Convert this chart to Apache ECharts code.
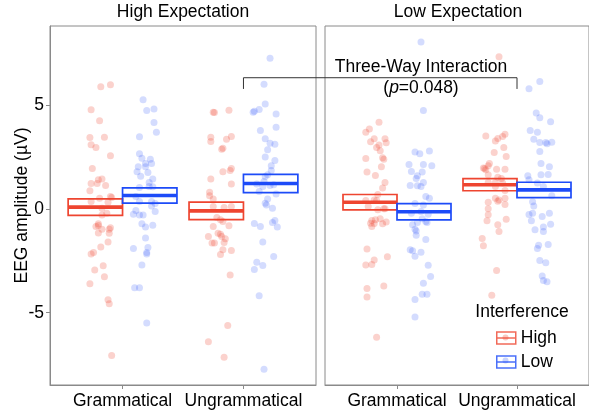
<!DOCTYPE html>
<html><head><meta charset="utf-8">
<script src="https://cdn.jsdelivr.net/npm/echarts@6/dist/echarts.min.js"></script>
<style>html,body{margin:0;padding:0;background:#fff}#c{width:589px;height:416px}</style>
</head><body><div id="c"></div>
<script>
// ---------- data ----------
const categories = ['Grammatical', 'Ungrammatical'];
const panels = ['High Expectation', 'Low Expectation'];
const interference = ['High', 'Low'];
const yTicks = [-5, 0, 5];

// High Expectation panel
const hiExpGramHighY = [5.87,5.97,4.77,4.24,3.43,3.45,3.08,2.95,2.55,1.94,1.40,1.43,1.22,1.22,1.12,0.87,0.59,0.51,0.54,0.35,0.32,0.03,-0.21,-0.30,-0.72,-0.80,-0.85,-0.91,-0.98,-0.98,-1.16,-1.17,-1.60,-1.84,-2.10,-2.18,-2.74,-2.94,-3.27,-3.61,-4.38,-4.57,-7.06];
const hiExpGramHighDx = [-0.18,-0.10,-0.26,-0.19,-0.27,-0.15,-0.26,-0.22,-0.10,-0.25,-0.20,-0.17,-0.26,-0.21,-0.14,-0.27,-0.10,-0.19,-0.09,-0.26,-0.12,-0.17,-0.13,-0.17,-0.20,-0.20,-0.22,-0.10,-0.17,-0.11,-0.20,-0.11,-0.12,-0.18,-0.24,-0.26,-0.16,-0.23,-0.15,-0.27,-0.12,-0.11,-0.09];
const hiExpGramLowY = [5.25,4.73,4.81,4.16,3.69,3.47,2.65,2.44,2.39,2.18,2.18,2.02,2.02,1.78,1.75,1.57,1.44,1.27,1.03,1.07,1.06,0.59,0.35,0.35,0.26,0.13,-0.08,-0.13,-0.26,-0.30,-0.30,-0.72,-0.88,-0.79,-1.41,-1.86,-1.91,-2.10,-2.18,-2.70,-3.80,-3.80,-5.50];
const hiExpGramLowDx = [0.17,0.20,0.26,0.26,0.28,0.14,0.14,0.16,0.23,0.19,0.24,0.13,0.19,0.12,0.21,0.15,0.25,0.22,0.14,0.22,0.25,0.11,0.14,0.24,0.27,0.24,0.11,0.27,0.09,0.14,0.17,0.16,0.19,0.25,0.19,0.21,0.09,0.20,0.20,0.16,0.10,0.14,0.20];
const hiExpUngrHighY = [4.65,4.64,4.75,3.45,3.24,3.35,3.48,2.87,2.92,1.94,1.85,1.78,1.43,1.19,0.80,0.63,0.47,0.11,0.06,0.11,-0.42,-0.53,-0.61,-0.82,-0.85,-1.17,-1.22,-1.33,-1.33,-1.44,-1.65,-1.65,-1.62,-1.97,-2.01,-2.20,-3.18,-5.62,-6.40,-7.14];
const hiExpUngrHighDx = [-0.25,-0.24,-0.12,-0.27,-0.27,-0.14,-0.10,-0.18,-0.17,-0.10,-0.11,-0.17,-0.27,-0.10,-0.28,-0.28,-0.25,-0.25,-0.16,-0.10,-0.22,-0.19,-0.17,-0.12,-0.25,-0.21,-0.19,-0.29,-0.18,-0.15,-0.26,-0.24,-0.16,-0.17,-0.10,-0.19,-0.11,-0.13,-0.29,-0.16];
const hiExpUngrLowY = [7.25,6.00,5.04,4.78,4.70,4.65,4.57,3.77,3.93,3.37,3.16,3.11,2.84,2.49,2.33,2.07,1.85,1.64,1.56,1.32,1.20,1.12,1.07,1.16,0.83,0.71,0.47,0.27,0.18,0.03,-0.71,-0.85,-0.66,-0.56,-0.87,-1.60,-2.30,-2.57,-2.92,-2.73,-4.19,-7.72];
const hiExpUngrLowDx = [0.22,0.17,0.18,0.13,0.09,0.08,0.27,0.14,0.27,0.18,0.22,0.26,0.20,0.18,0.26,0.23,0.23,0.20,0.18,0.17,0.11,0.22,0.16,0.25,0.13,0.27,0.20,0.18,0.19,0.24,0.09,0.14,0.24,0.26,0.28,0.16,0.25,0.11,0.09,0.16,0.13,0.17];

// Low Expectation panel
const loExpGramHighY = [4.17,3.84,3.68,3.37,3.37,3.23,3.18,3.07,2.95,2.79,2.42,2.46,2.39,2.02,1.77,1.60,1.27,1.00,0.69,0.40,0.42,0.40,0.11,0.00,-0.05,0.00,-0.56,-0.53,-0.48,-0.63,-0.69,-0.71,-0.85,-0.72,-1.93,-2.31,-2.46,-2.70,-2.68,-3.84,-3.72,-4.24,-6.18];
const loExpGramHighDx = [-0.15,-0.23,-0.26,-0.19,-0.10,-0.22,-0.09,-0.15,-0.17,-0.14,-0.26,-0.12,-0.11,-0.13,-0.25,-0.18,-0.10,-0.12,-0.16,-0.26,-0.19,-0.17,-0.24,-0.10,-0.16,-0.11,-0.21,-0.18,-0.14,-0.09,-0.22,-0.19,-0.21,-0.12,-0.25,-0.08,-0.19,-0.26,-0.21,-0.25,-0.11,-0.25,-0.17];
const loExpGramLowY = [8.03,4.73,2.74,2.65,2.78,2.13,2.13,2.07,1.80,1.77,1.59,1.46,1.27,1.12,1.11,1.07,0.59,0.51,0.26,0.19,-0.21,-0.13,-0.26,-0.77,-0.66,-0.48,-0.66,-0.61,-0.98,-1.07,-1.27,-1.48,-1.97,-2.02,-2.09,-2.28,-2.71,-3.26,-3.58,-4.11,-4.11,-4.37,-5.21];
const loExpGramLowDx = [0.20,0.22,0.15,0.19,0.27,0.10,0.22,0.29,0.12,0.21,0.17,0.16,0.22,0.11,0.17,0.20,0.24,0.27,0.15,0.22,0.12,0.20,0.26,0.13,0.17,0.21,0.25,0.24,0.15,0.16,0.16,0.24,0.11,0.13,0.20,0.15,0.26,0.28,0.22,0.21,0.25,0.15,0.15];
const loExpUngrHighY = [7.32,3.51,3.59,3.39,3.48,3.27,2.95,2.71,2.52,2.18,2.07,1.94,1.88,1.96,1.91,1.91,1.64,1.52,1.46,1.27,1.27,1.24,1.07,0.88,0.51,0.43,0.37,0.51,0.32,0.21,0.00,-0.29,-0.58,-0.50,-0.77,-1.09,-1.43,-1.78,-2.97,-4.16];
const loExpUngrHighDx = [-0.15,-0.26,-0.10,-0.16,-0.12,-0.18,-0.11,-0.19,-0.09,-0.23,-0.24,-0.27,-0.26,-0.28,-0.17,-0.10,-0.24,-0.16,-0.13,-0.24,-0.18,-0.12,-0.18,-0.10,-0.18,-0.15,-0.16,-0.10,-0.24,-0.10,-0.24,-0.24,-0.25,-0.09,-0.16,-0.15,-0.29,-0.28,-0.17,-0.21];
const loExpUngrLowY = [6.13,5.78,4.61,4.38,4.19,3.77,3.69,3.35,3.19,3.19,3.21,3.13,2.76,2.18,2.02,1.59,1.40,1.64,1.65,1.24,1.07,0.63,0.34,0.14,-0.27,-0.21,-0.37,-0.21,-0.58,-0.74,-0.88,-1.01,-1.09,-1.72,-1.75,-1.91,-2.49,-2.60,-3.23,-3.45,-3.51];
const loExpUngrLowDx = [0.19,0.10,0.16,0.19,0.28,0.11,0.17,0.14,0.19,0.24,0.29,0.25,0.19,0.20,0.27,0.09,0.10,0.20,0.26,0.17,0.22,0.29,0.13,0.14,0.10,0.13,0.21,0.27,0.12,0.28,0.22,0.15,0.22,0.26,0.18,0.17,0.19,0.24,0.21,0.22,0.25];

// crossbar: mean and standard error, per category [Grammatical, Ungrammatical]
const hiExpHighMean = [0.08, -0.10];
const hiExpHighSE   = [0.40, 0.42];
const hiExpLowMean  = [0.64, 1.22];
const hiExpLowSE    = [0.37, 0.44];
const loExpHighMean = [0.32, 1.16];
const loExpHighSE   = [0.37, 0.29];
const loExpLowMean  = [-0.14, 0.91];
const loExpLowSE    = [0.39, 0.37];

// annotation
const interactionLabel = 'Three-Way Interaction';
const interactionP = 0.048;

// ---------- chart ----------
const FONT = "'Liberation Sans', Arial, Helvetica, sans-serif";
const FS = 17.5;
const RED = '#EE4530', BLUE = '#1D4BF8';
const PT = { High: 'rgba(238,69,48,0.30)', Low: 'rgba(29,75,248,0.24)' };
const LINE = { High: RED, Low: BLUE };
const DODGE = { High: -0.225, Low: 0.225 };
const GREY = '#8a8a8a';

const pointSets = [
  { High: [[hiExpGramHighY, hiExpGramHighDx], [hiExpUngrHighY, hiExpUngrHighDx]],
    Low:  [[hiExpGramLowY,  hiExpGramLowDx],  [hiExpUngrLowY,  hiExpUngrLowDx]] },
  { High: [[loExpGramHighY, loExpGramHighDx], [loExpUngrHighY, loExpUngrHighDx]],
    Low:  [[loExpGramLowY,  loExpGramLowDx],  [loExpUngrLowY,  loExpUngrLowDx]] }
];
const barSets = [
  { High: [hiExpHighMean, hiExpHighSE], Low: [hiExpLowMean, hiExpLowSE] },
  { High: [loExpHighMean, loExpHighSE], Low: [loExpLowMean, loExpLowSE] }
];

function renderBar(color) {
  return function (params, api) {
    const x = api.value(0), m = api.value(1), s = api.value(2), hw = 0.225;
    const tl = api.coord([x - hw, m + s]), br = api.coord([x + hw, m - s]);
    const ml = api.coord([x - hw, m]), mr = api.coord([x + hw, m]);
    return { type: 'group', children: [
      { type: 'rect', shape: { x: tl[0], y: tl[1], width: br[0] - tl[0], height: br[1] - tl[1] },
        style: { fill: 'none', stroke: color, lineWidth: 1.7 } },
      { type: 'line', shape: { x1: ml[0], y1: ml[1], x2: mr[0], y2: mr[1] },
        style: { stroke: color, lineWidth: 3.6 } }
    ]};
  };
}

const grids = [
  { left: 50, top: 26, width: 266, height: 359, show: true, borderColor: GREY, borderWidth: 1 },
  { left: 325, top: 26, width: 266, height: 359, show: true, borderColor: GREY, borderWidth: 1 }
];
const xAxes = grids.map((g, i) => ({
  type: 'value', gridIndex: i, min: 0.4, max: 2.6,
  axisLine: { show: true, onZero: false, lineStyle: { color: GREY } },
  axisTick: { show: true, customValues: [1, 2], length: 4, lineStyle: { color: GREY } },
  axisLabel: { customValues: [1, 2], margin: 7, fontSize: FS, color: '#000', fontFamily: FONT,
    formatter: v => (Math.abs(v - Math.round(v)) < 1e-6 && v >= 1 && v <= 2) ? categories[Math.round(v) - 1] : '' },
  splitLine: { show: false }
}));
const yAxes = [
  { type: 'value', gridIndex: 0, min: -8.48, max: 8.80,
    name: 'EEG amplitude (µV)', nameLocation: 'middle', nameGap: 19, nameMoveOverlap: false,
    nameTextStyle: { fontSize: FS, color: '#000', fontFamily: FONT },
    axisLine: { show: true, onZero: false, lineStyle: { color: GREY } },
    axisTick: { show: true, customValues: yTicks, length: 4, lineStyle: { color: GREY } },
    axisLabel: { customValues: yTicks, margin: 6, fontSize: FS, color: '#000', fontFamily: FONT,
      formatter: v => yTicks.indexOf(v) >= 0 ? String(v) : '' },
    splitLine: { show: false } },
  { type: 'value', gridIndex: 1, min: -8.48, max: 8.80,
    axisLine: { show: false }, axisTick: { show: false }, axisLabel: { show: false },
    splitLine: { show: false } }
];

const series = [];
[0, 1].forEach(p => {
  interference.forEach(g => {
    const data = [];
    pointSets[p][g].forEach((pair, ci) => {
      const ys = pair[0], dxs = pair[1];
      ys.forEach((y, k) => data.push([ci + 1 + dxs[k], y]));
    });
    series.push({ type: 'scatter', name: g, xAxisIndex: p, yAxisIndex: p, symbolSize: 7,
      itemStyle: { color: PT[g] }, silent: true, z: 2, data: data });
  });
});
[0, 1].forEach(p => {
  interference.forEach(g => {
    const means = barSets[p][g][0], ses = barSets[p][g][1];
    series.push({ type: 'custom', name: g, xAxisIndex: p, yAxisIndex: p, z: 3, silent: true,
      renderItem: renderBar(LINE[g]),
      data: categories.map((c, ci) => [ci + 1 + DODGE[g], means[ci], ses[ci]]) });
  });
});

const titleStyle = { fontSize: FS, fontWeight: 'normal', color: '#000', fontFamily: FONT };
const chart = echarts.init(document.getElementById('c'));
chart.setOption({
  animation: false,
  backgroundColor: '#fff',
  title: [
    { text: panels[0], left: 183, top: 3, textAlign: 'center', padding: 0, textStyle: titleStyle },
    { text: panels[1], left: 458, top: 3, textAlign: 'center', padding: 0, textStyle: titleStyle },
    { text: 'Interference', left: 522, top: 303, textAlign: 'center', padding: 0, textStyle: titleStyle }
  ],
  legend: {
    orient: 'vertical', left: 496, top: 329, itemWidth: 19, itemHeight: 12, itemGap: 6,
    selectedMode: false, padding: 0,
    textStyle: { fontSize: FS, color: '#000', fontFamily: FONT, lineHeight: 17 },
    data: interference.map(g => ({ name: g, icon: 'path://M0,0H19V12H0ZM0,6H19',
      itemStyle: { color: 'rgba(0,0,0,0)', borderColor: LINE[g], borderWidth: 1.5 } }))
  },
  grid: grids, xAxis: xAxes, yAxis: yAxes, series: series
});

// bracket and annotation placed through the axes' scales
const a = chart.convertToPixel({ gridIndex: 0 }, [2, 5.77]);
const b = chart.convertToPixel({ gridIndex: 0 }, [2, 6.31]);
const c = chart.convertToPixel({ gridIndex: 1 }, [2, 6.31]);
const d = chart.convertToPixel({ gridIndex: 1 }, [2, 5.77]);
const t1 = chart.convertToPixel({ gridIndex: 1 }, [1.2, 6.83]);
const t2 = chart.convertToPixel({ gridIndex: 1 }, [1.2, 5.82]);
chart.setOption({ graphic: [
  { type: 'polyline', z: 20, shape: { points: [a, b, c, d] }, style: { stroke: '#333', lineWidth: 1, fill: null } },
  { type: 'text', z: 21, x: t1[0], y: t1[1], style: { text: interactionLabel, align: 'center', verticalAlign: 'middle',
      fontSize: FS, fontFamily: FONT, fill: '#000' } },
  { type: 'text', z: 21, x: t2[0], y: t2[1], style: { text: '({i|p}=' + interactionP.toFixed(3) + ')', align: 'center', verticalAlign: 'middle',
      fontSize: FS, fontFamily: FONT, fill: '#000',
      rich: { i: { fontStyle: 'italic', fontSize: FS, fontFamily: FONT, fill: '#000' } } } },
  { type: 'circle', z: 21, shape: { cx: 505.5, cy: 337.5, r: 3 }, style: { fill: PT.High } },
  { type: 'circle', z: 21, shape: { cx: 505.5, cy: 360.5, r: 3 }, style: { fill: PT.Low } }
]});
</script></body></html>
